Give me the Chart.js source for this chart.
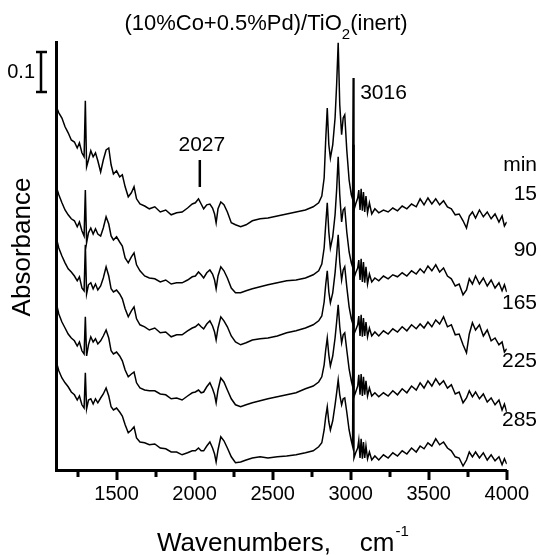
<!DOCTYPE html>
<html>
<head>
<meta charset="utf-8">
<script src="https://cdn.jsdelivr.net/npm/chart.js@4.4.1/dist/chart.umd.min.js"></script>
<style>
  html, body { margin: 0; padding: 0; background: #fff; }
</style>
</head>
<body>
<canvas id="myChart" width="541" height="555"></canvas>
<script>
// wavenumbers (cm-1), shared by all five spectra
const wavenumbers = [
  1112, 1130, 1150, 1170, 1190, 1210, 1230, 1248, 1262, 1278,
  1292, 1300, 1308, 1320, 1335, 1350, 1365, 1380, 1398, 1415,
  1433, 1450, 1465, 1480, 1500, 1520, 1537, 1555, 1575, 1595,
  1612, 1628, 1650, 1680, 1710, 1745, 1780, 1815, 1850, 1885,
  1920, 1955, 1985, 2005, 2025, 2042, 2058, 2078, 2098, 2115,
  2128, 2138, 2150, 2168, 2188, 2210, 2235, 2262, 2295, 2330,
  2370, 2420, 2470, 2530, 2590, 2650, 2710, 2760, 2795, 2815,
  2830, 2840, 2850, 2860, 2870, 2885, 2900, 2910, 2920, 2930,
  2942, 2952, 2962, 2975, 2990, 3004, 3012, 3016, 3021, 3032,
  3045, 3052, 3060, 3067, 3075, 3082, 3090, 3098, 3108, 3120,
  3135, 3155, 3180, 3210, 3240, 3270, 3300, 3330, 3360, 3390,
  3420, 3445, 3470, 3495, 3520, 3545, 3570, 3595, 3620, 3645,
  3670, 3695, 3720, 3742, 3760, 3780, 3800, 3825, 3850, 3875,
  3900, 3925, 3950, 3970, 3985, 4000
];

// absorbance (offset spectra), 15 min
const abs15 = [
  0.910, 0.893, 0.880, 0.858, 0.843, 0.825, 0.820, 0.805, 0.818, 0.793,
  0.783, 0.923, 0.758, 0.775, 0.798, 0.783, 0.793, 0.773, 0.745, 0.775,
  0.800, 0.805, 0.763, 0.740, 0.748, 0.733, 0.738, 0.708, 0.683, 0.693,
  0.708, 0.678, 0.665, 0.660, 0.653, 0.658, 0.645, 0.650, 0.638, 0.643,
  0.645, 0.655, 0.665, 0.668, 0.678, 0.665, 0.653, 0.663, 0.665, 0.655,
  0.640, 0.618, 0.653, 0.670, 0.663, 0.645, 0.618, 0.613, 0.608, 0.613,
  0.623, 0.628, 0.630, 0.635, 0.640, 0.645, 0.650, 0.658, 0.668, 0.685,
  0.730, 0.825, 0.905, 0.813, 0.780, 0.813, 0.880, 0.963, 1.068, 0.913,
  0.838, 0.880, 0.888, 0.800, 0.725, 0.688, 0.678, 0.980, 0.650, 0.665,
  0.680, 0.700, 0.650, 0.703, 0.648, 0.695, 0.645, 0.685, 0.643, 0.668,
  0.640, 0.653, 0.643, 0.650, 0.645, 0.655, 0.648, 0.660, 0.653, 0.665,
  0.658, 0.678, 0.663, 0.680, 0.665, 0.678, 0.663, 0.673, 0.658, 0.653,
  0.638, 0.640, 0.623, 0.605, 0.635, 0.645, 0.630, 0.650, 0.633, 0.645,
  0.628, 0.640, 0.620, 0.635, 0.610, 0.620
];

// 90 min
const abs90 = [
  0.710, 0.688, 0.668, 0.650, 0.638, 0.628, 0.623, 0.608, 0.620, 0.598,
  0.585, 0.700, 0.568, 0.593, 0.605, 0.590, 0.603, 0.590, 0.585, 0.605,
  0.633, 0.615, 0.585, 0.575, 0.583, 0.570, 0.560, 0.530, 0.518, 0.533,
  0.543, 0.513, 0.498, 0.485, 0.480, 0.478, 0.470, 0.475, 0.465, 0.468,
  0.468, 0.475, 0.483, 0.485, 0.495, 0.488, 0.480, 0.493, 0.500, 0.490,
  0.475, 0.453, 0.485, 0.508, 0.498, 0.480, 0.455, 0.443, 0.443, 0.448,
  0.453, 0.458, 0.463, 0.468, 0.473, 0.475, 0.480, 0.488, 0.498, 0.515,
  0.555, 0.613, 0.668, 0.595, 0.555, 0.583, 0.638, 0.700, 0.783, 0.688,
  0.620, 0.650, 0.655, 0.595, 0.545, 0.518, 0.508, 0.813, 0.480, 0.493,
  0.505, 0.525, 0.475, 0.528, 0.470, 0.520, 0.468, 0.508, 0.465, 0.490,
  0.470, 0.480, 0.473, 0.485, 0.478, 0.488, 0.483, 0.493, 0.485, 0.498,
  0.490, 0.503, 0.493, 0.510, 0.498, 0.513, 0.495, 0.505, 0.485, 0.478,
  0.460, 0.465, 0.438, 0.450, 0.478, 0.465, 0.485, 0.465, 0.480, 0.460,
  0.475, 0.455, 0.468, 0.448, 0.463, 0.445
];

// 165 min
const abs165 = [
  0.583, 0.555, 0.535, 0.518, 0.503, 0.495, 0.485, 0.473, 0.483, 0.455,
  0.448, 0.563, 0.440, 0.463, 0.468, 0.453, 0.465, 0.450, 0.460, 0.480,
  0.508, 0.485, 0.453, 0.445, 0.450, 0.440, 0.428, 0.403, 0.383, 0.398,
  0.408, 0.378, 0.363, 0.358, 0.350, 0.355, 0.343, 0.345, 0.333, 0.338,
  0.338, 0.348, 0.355, 0.358, 0.365, 0.358, 0.353, 0.365, 0.373, 0.360,
  0.345, 0.325, 0.355, 0.383, 0.373, 0.358, 0.335, 0.320, 0.313, 0.318,
  0.325, 0.328, 0.330, 0.335, 0.343, 0.348, 0.355, 0.363, 0.373, 0.385,
  0.420, 0.463, 0.498, 0.445, 0.418, 0.443, 0.493, 0.538, 0.588, 0.520,
  0.475, 0.500, 0.508, 0.458, 0.408, 0.378, 0.368, 0.675, 0.340, 0.350,
  0.363, 0.385, 0.335, 0.388, 0.333, 0.380, 0.335, 0.370, 0.333, 0.355,
  0.335, 0.345, 0.335, 0.348, 0.340, 0.353, 0.345, 0.358, 0.348, 0.363,
  0.353, 0.365, 0.355, 0.370, 0.358, 0.375, 0.365, 0.383, 0.358, 0.363,
  0.338, 0.340, 0.313, 0.293, 0.340, 0.368, 0.350, 0.363, 0.335, 0.350,
  0.323, 0.330, 0.313, 0.320, 0.295, 0.303
];

// 225 min
const abs225 = [
  0.420, 0.390, 0.370, 0.355, 0.340, 0.330, 0.323, 0.310, 0.320, 0.298,
  0.290, 0.383, 0.285, 0.313, 0.333, 0.320, 0.328, 0.315, 0.323, 0.335,
  0.350, 0.330, 0.298, 0.290, 0.295, 0.285, 0.273, 0.250, 0.233, 0.240,
  0.245, 0.218, 0.205, 0.200, 0.198, 0.198, 0.190, 0.188, 0.178, 0.180,
  0.175, 0.185, 0.193, 0.195, 0.200, 0.193, 0.195, 0.208, 0.218, 0.203,
  0.188, 0.168, 0.200, 0.230, 0.220, 0.200, 0.178, 0.163, 0.158, 0.163,
  0.168, 0.173, 0.178, 0.183, 0.188, 0.193, 0.203, 0.210, 0.220, 0.233,
  0.263, 0.300, 0.330, 0.288, 0.260, 0.285, 0.330, 0.370, 0.413, 0.358,
  0.318, 0.338, 0.343, 0.300, 0.253, 0.223, 0.210, 0.520, 0.183, 0.195,
  0.210, 0.238, 0.188, 0.240, 0.185, 0.233, 0.188, 0.223, 0.185, 0.205,
  0.185, 0.193, 0.183, 0.193, 0.185, 0.198, 0.188, 0.203, 0.193, 0.210,
  0.200, 0.218, 0.205, 0.223, 0.210, 0.228, 0.213, 0.223, 0.205, 0.213,
  0.190, 0.195, 0.168, 0.180, 0.198, 0.183, 0.195, 0.178, 0.190, 0.170,
  0.180, 0.163, 0.175, 0.150, 0.165, 0.145
];

// 285 min
const abs285 = [
  0.273, 0.248, 0.230, 0.218, 0.208, 0.195, 0.188, 0.175, 0.185, 0.163,
  0.155, 0.243, 0.153, 0.175, 0.178, 0.165, 0.178, 0.168, 0.180, 0.190,
  0.205, 0.185, 0.158, 0.150, 0.155, 0.145, 0.135, 0.113, 0.093, 0.100,
  0.108, 0.080, 0.070, 0.068, 0.063, 0.065, 0.055, 0.053, 0.045, 0.045,
  0.038, 0.043, 0.048, 0.048, 0.055, 0.048, 0.048, 0.060, 0.070, 0.055,
  0.040, 0.020, 0.050, 0.083, 0.073, 0.055, 0.033, 0.018, 0.020, 0.025,
  0.030, 0.033, 0.030, 0.033, 0.035, 0.038, 0.043, 0.048, 0.058, 0.068,
  0.100, 0.133, 0.158, 0.120, 0.100, 0.123, 0.163, 0.193, 0.225, 0.188,
  0.163, 0.178, 0.180, 0.145, 0.100, 0.073, 0.060, 0.350, 0.030, 0.043,
  0.055, 0.075, 0.030, 0.078, 0.028, 0.070, 0.030, 0.060, 0.028, 0.045,
  0.025, 0.035, 0.025, 0.038, 0.030, 0.043, 0.035, 0.048, 0.040, 0.055,
  0.045, 0.060, 0.053, 0.068, 0.060, 0.078, 0.063, 0.070, 0.055, 0.048,
  0.033, 0.030, 0.010, 0.025, 0.045, 0.033, 0.045, 0.030, 0.043, 0.025,
  0.038, 0.023, 0.033, 0.013, 0.028, 0.015
];

const spectra = [abs15, abs90, abs165, abs225, abs285];
const timeLabels = ['15', '90', '165', '225', '285'];
const xTicks = [1500, 2000, 2500, 3000, 3500, 4000];
const xMinorTicks = [1250, 1750, 2250, 2750, 3250, 3750];

const FONT = '"Liberation Sans", Arial, sans-serif';
Chart.defaults.font.family = FONT;
Chart.defaults.color = '#000';

// text and marks around the plot
const annotate = {
  id: 'annotate',
  afterDraw(chart) {
    const { ctx, chartArea: area, scales: { x, y } } = chart;
    ctx.save();
    ctx.fillStyle = '#000';
    ctx.strokeStyle = '#000';
    ctx.textBaseline = 'middle';

    // tick marks
    ctx.lineWidth = 3;
    ctx.beginPath();
    xTicks.forEach(v => {
      const px = Math.round(x.getPixelForValue(v));
      ctx.moveTo(px, area.bottom); ctx.lineTo(px, area.bottom + 10);
    });
    xMinorTicks.forEach(v => {
      const px = Math.round(x.getPixelForValue(v));
      ctx.moveTo(px, area.bottom); ctx.lineTo(px, area.bottom + 7);
    });
    ctx.stroke();

    // title with subscript
    const t1 = '(10%Co+0.5%Pd)/TiO', t2 = '2', t3 = '(inert)';
    ctx.font = '22px ' + FONT;
    const w1 = ctx.measureText(t1).width, w3 = ctx.measureText(t3).width;
    ctx.font = '15px ' + FONT;
    const w2 = ctx.measureText(t2).width;
    let sx = 266 - (w1 + w2 + w3) / 2;
    ctx.textAlign = 'left';
    ctx.font = '22px ' + FONT;
    ctx.fillText(t1, sx, 24);
    ctx.font = '15px ' + FONT;
    ctx.fillText(t2, sx + w1, 35);
    ctx.font = '22px ' + FONT;
    ctx.fillText(t3, sx + w1 + w2, 24);

    // scale bar 0.1
    const bx = area.left - 15;
    const bTop = y.getPixelForValue(1.045), bBot = y.getPixelForValue(0.945);
    ctx.lineWidth = 2.5;
    ctx.beginPath();
    ctx.moveTo(bx, bTop); ctx.lineTo(bx, bBot);
    ctx.moveTo(bx - 5, bTop); ctx.lineTo(bx + 6, bTop);
    ctx.moveTo(bx - 5, bBot); ctx.lineTo(bx + 6, bBot);
    ctx.stroke();
    ctx.font = '20px ' + FONT;
    ctx.textAlign = 'right';
    ctx.fillText('0.1', bx - 6, (bTop + bBot) / 2);

    // y title
    ctx.save();
    ctx.translate(23, 247);
    ctx.rotate(-Math.PI / 2);
    ctx.textAlign = 'center';
    ctx.font = '26px ' + FONT;
    ctx.fillText('Absorbance', 0, 0);
    ctx.restore();

    // x title with superscript
    ctx.textAlign = 'left';
    ctx.font = '26px ' + FONT;
    const xt = 'Wavenumbers,    cm';
    ctx.fillText(xt, 157, 544);
    const xw = ctx.measureText(xt).width;
    ctx.font = '15px ' + FONT;
    ctx.fillText('-1', 157 + xw + 1, 532);

    // 2027 band marker
    const p2027 = x.getPixelForValue(2027);
    ctx.font = '21px ' + FONT;
    ctx.textAlign = 'center';
    ctx.fillText('2027', p2027 + 3, y.getPixelForValue(0.8125));
    ctx.lineWidth = 2.5;
    ctx.beginPath();
    ctx.moveTo(p2027 + 1, y.getPixelForValue(0.775));
    ctx.lineTo(p2027 + 1, y.getPixelForValue(0.7075));
    ctx.stroke();

    // 3016 label
    ctx.textAlign = 'left';
    ctx.fillText('3016', x.getPixelForValue(3016) + 7, y.getPixelForValue(0.9425));

    // time labels on the right
    ctx.textAlign = 'right';
    const levels = [0.69, 0.55, 0.4175, 0.2725, 0.125];
    ctx.fillText('min', 537, y.getPixelForValue(0.7625));
    timeLabels.forEach((t, i) => ctx.fillText(t, 537, y.getPixelForValue(levels[i])));

    ctx.restore();
  }
};

new Chart('myChart', {
  type: 'line',
  data: {
    datasets: spectra.map((s, k) => ({
      label: timeLabels[k] + ' min',
      data: wavenumbers.map((w, i) => ({ x: w, y: s[i] })),
      borderColor: '#000',
      borderWidth: 1.5,
      pointRadius: 0,
      fill: false,
      tension: 0
    }))
  },
  options: {
    responsive: false,
    animation: false,
    devicePixelRatio: 1,
    layout: { padding: { left: 0, right: 30, top: 42, bottom: 0 } },
    plugins: {
      legend: { display: false },
      tooltip: { enabled: false },
      title: { display: false }
    },
    scales: {
      x: {
        type: 'linear',
        min: 1112,
        max: 4000,
        grid: { display: false, drawTicks: false },
        border: { color: '#000', width: 3 },
        afterBuildTicks: s => { s.ticks = xTicks.map(v => ({ value: v })); },
        afterFit: s => { s.height = 85; },
        ticks: {
          color: '#000',
          font: { size: 20 },
          padding: 12,
          autoSkip: false,
          maxRotation: 0,
          callback: v => String(v)
        }
      },
      y: {
        min: 0,
        max: 1.07,
        grid: { display: false, drawTicks: false },
        border: { color: '#000', width: 3 },
        ticks: { display: false },
        afterFit: s => { s.width = 56; }
      }
    }
  },
  plugins: [annotate]
});
</script>
</body>
</html>
